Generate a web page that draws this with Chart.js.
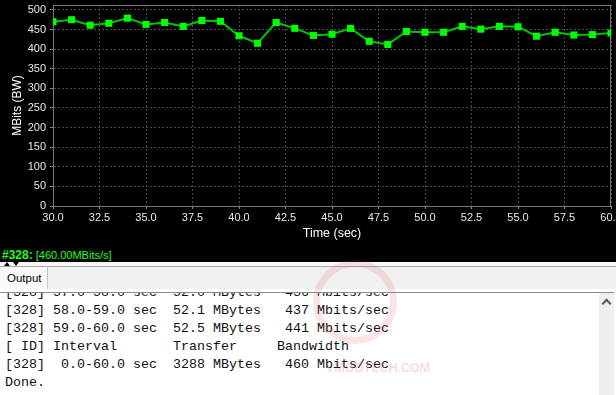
<!DOCTYPE html>
<html>
<head>
<meta charset="utf-8">
<script src="https://cdn.jsdelivr.net/npm/chart.js@4.4.0/dist/chart.umd.min.js"></script>
<style>
html, body { margin: 0; padding: 0; width: 616px; height: 395px; overflow: hidden; background: #fff; font-family: "Liberation Sans", Arial, sans-serif; }
#top { position: absolute; left: 0; top: 0; width: 616px; height: 262px; background: #000; }
#chartBox { position: absolute; left: 0; top: 0; width: 616px; height: 248px; }
#status { position: absolute; left: 2px; top: 248px; height: 14px; line-height: 14px; font-size: 11px; color: #22ff22; white-space: pre; }
#status b { font-size: 12px; }
#split { position: absolute; left: 0; top: 262px; width: 616px; height: 4px; background: #f7f7f7; }
.arr { position: absolute; top: 0; width: 0; height: 0; border-left: 3px solid transparent; border-right: 3px solid transparent; }
#tabbar { position: absolute; left: 0; top: 266px; width: 616px; height: 22px; background: #f0f0f0; border-top: 1px solid #a8a8a8; }
#tab { position: absolute; left: 0; top: 266px; width: 47px; height: 23px; background: #f9f9f9; border-top: 1px solid #a8a8a8; border-right: 1px solid #c4c4c4; font-size: 11.5px; line-height: 23px; }
#tab span { position: absolute; left: 7px; top: 0; color: #000; }
#gap { position: absolute; left: 0; top: 289px; width: 616px; height: 3px; background: #fff; }
#out { position: absolute; left: 0; top: 292px; width: 613px; height: 103px; background: #fff; border-top: 1px solid #8c8c8c; border-right: 1px solid #8c8c8c; overflow: hidden; }
#out pre { margin: -9px 0 0 5px; font-family: "Liberation Mono", "Courier New", monospace; font-size: 13.33px; line-height: 18px; color: #111; }
#scroll { position: absolute; left: 599px; top: 293px; width: 15px; height: 102px; background: #efefef; }
#scroll i { position: absolute; left: 4px; top: 7px; width: 5px; height: 5px; border-left: 2px solid #555; border-top: 2px solid #555; transform: rotate(45deg); }
#ring { position: absolute; left: 313px; top: 260px; width: 70px; height: 70px; border-radius: 50%; border: 7px solid rgba(215, 70, 70, 0.14); }
#wm { position: absolute; left: 326px; top: 361px; font-size: 12.5px; font-weight: bold; color: rgba(225, 90, 90, 0.22); }
</style>
</head>
<body>
<div id="top">
  <div id="chartBox"><canvas id="bwChart"></canvas></div>
  <div id="status"><b>#328:</b> [460.00MBits/s]</div>
</div>
<div id="split">
  <div class="arr" style="left:4px;border-bottom:4px solid #000;"></div>
  <div class="arr" style="left:13px;border-top:4px solid #000;"></div>
</div>
<div id="tabbar"></div>
<div id="tab"><span>Output</span></div>
<div id="gap"></div>
<div id="out"><pre>[328] 57.0-58.0 sec  52.0 MBytes   436 Mbits/sec
[328] 58.0-59.0 sec  52.1 MBytes   437 Mbits/sec
[328] 59.0-60.0 sec  52.5 MBytes   441 Mbits/sec
[ ID] Interval       Transfer     Bandwidth
[328]  0.0-60.0 sec  3288 MBytes   460 Mbits/sec
Done.</pre></div>
<div id="scroll"><i></i></div>
<div id="ring"></div>
<div id="wm">VMODTECH.COM</div>

<script>
// time axis (sec) and measured bandwidth (MBits/s)
const seconds = [30, 31, 32, 33, 34, 35, 36, 37, 38, 39, 40, 41, 42, 43, 44, 45,
                 46, 47, 48, 49, 50, 51, 52, 53, 54, 55, 56, 57, 58, 59, 60];
const bandwidth = [470, 475, 461, 466, 479, 463, 468, 458, 473, 471, 434, 415, 468, 453, 435, 438,
                   453, 420, 412, 445, 443, 443, 458, 451, 458, 457, 433, 443, 436, 437, 441];
const xTicks = [30, 32.5, 35, 37.5, 40, 42.5, 45, 47.5, 50, 52.5, 55, 57.5, 60];
const yTicks = [0, 50, 100, 150, 200, 250, 300, 350, 400, 450, 500];

// grey frame round the plot (top and right edges too)
const plotFrame = {
    id: 'plotFrame',
    beforeDatasetsDraw(chart) {
        const a = chart.chartArea;
        const ctx = chart.ctx;
        ctx.save();
        ctx.strokeStyle = '#777';
        ctx.lineWidth = 1;
        ctx.strokeRect(a.left + 0.5, a.top + 0.5, a.right - a.left - 1, a.bottom - a.top);
        ctx.restore();
    }
};

const points = seconds.map((s, i) => ({ x: s, y: bandwidth[i] }));

const ctx = document.getElementById('bwChart').getContext('2d');
const bwChart = new Chart(ctx, {
    type: 'line',
    data: {
        datasets: [{
            label: '#328',
            data: points,
            borderColor: '#00c400',
            borderWidth: 2,
            backgroundColor: '#00ff00',
            pointBackgroundColor: '#00ff00',
            pointBorderWidth: 0,
            pointStyle: 'rect',
            pointRadius: 5,
            tension: 0,
            clip: 0
        }]
    },
    options: {
        responsive: true,
        maintainAspectRatio: false,
        animation: false,
        layout: { padding: { top: 5, right: 5, left: 0, bottom: 0 } },
        plugins: { legend: { display: false }, tooltip: { enabled: false } },
        scales: {
            x: {
                type: 'linear',
                min: 30,
                max: 60,
                afterBuildTicks: s => { s.ticks = xTicks.map(v => ({ value: v })); },
                afterFit: s => { s.height = 42; s.paddingLeft = 0; s.paddingRight = 0; },
                ticks: {
                    color: '#e8e8e8',
                    font: { family: 'Liberation Sans', size: 11 },
                    padding: 2,
                    maxRotation: 0,
                    autoSkip: false,
                    callback: v => v.toFixed(1)
                },
                grid: { color: '#4a4a4a', tickColor: '#888', tickLength: 3, tickBorderDash: [] },
                border: { color: '#888', dash: [2, 2] },
                title: {
                    display: true,
                    text: 'Time (sec)',
                    color: '#fff',
                    font: { family: 'Liberation Sans', size: 12.5 },
                    padding: { top: 0, bottom: 7 }
                }
            },
            y: {
                min: 0,
                max: 512.5,
                afterBuildTicks: s => { s.ticks = yTicks.map(v => ({ value: v })); },
                afterFit: s => { s.width = 53; s.paddingTop = 0; s.paddingBottom = 0; },
                ticks: {
                    color: '#e8e8e8',
                    font: { family: 'Liberation Sans', size: 11 },
                    padding: 4
                },
                grid: { color: '#4a4a4a', tickColor: '#888', tickLength: 3, tickBorderDash: [] },
                border: { color: '#888', dash: [2, 2] },
                title: {
                    display: true,
                    text: 'MBits (BW)',
                    color: '#fff',
                    font: { family: 'Liberation Sans', size: 12 },
                    padding: { top: 10, bottom: 0 }
                }
            }
        }
    },
    plugins: [plotFrame]
});
</script>
</body>
</html>
